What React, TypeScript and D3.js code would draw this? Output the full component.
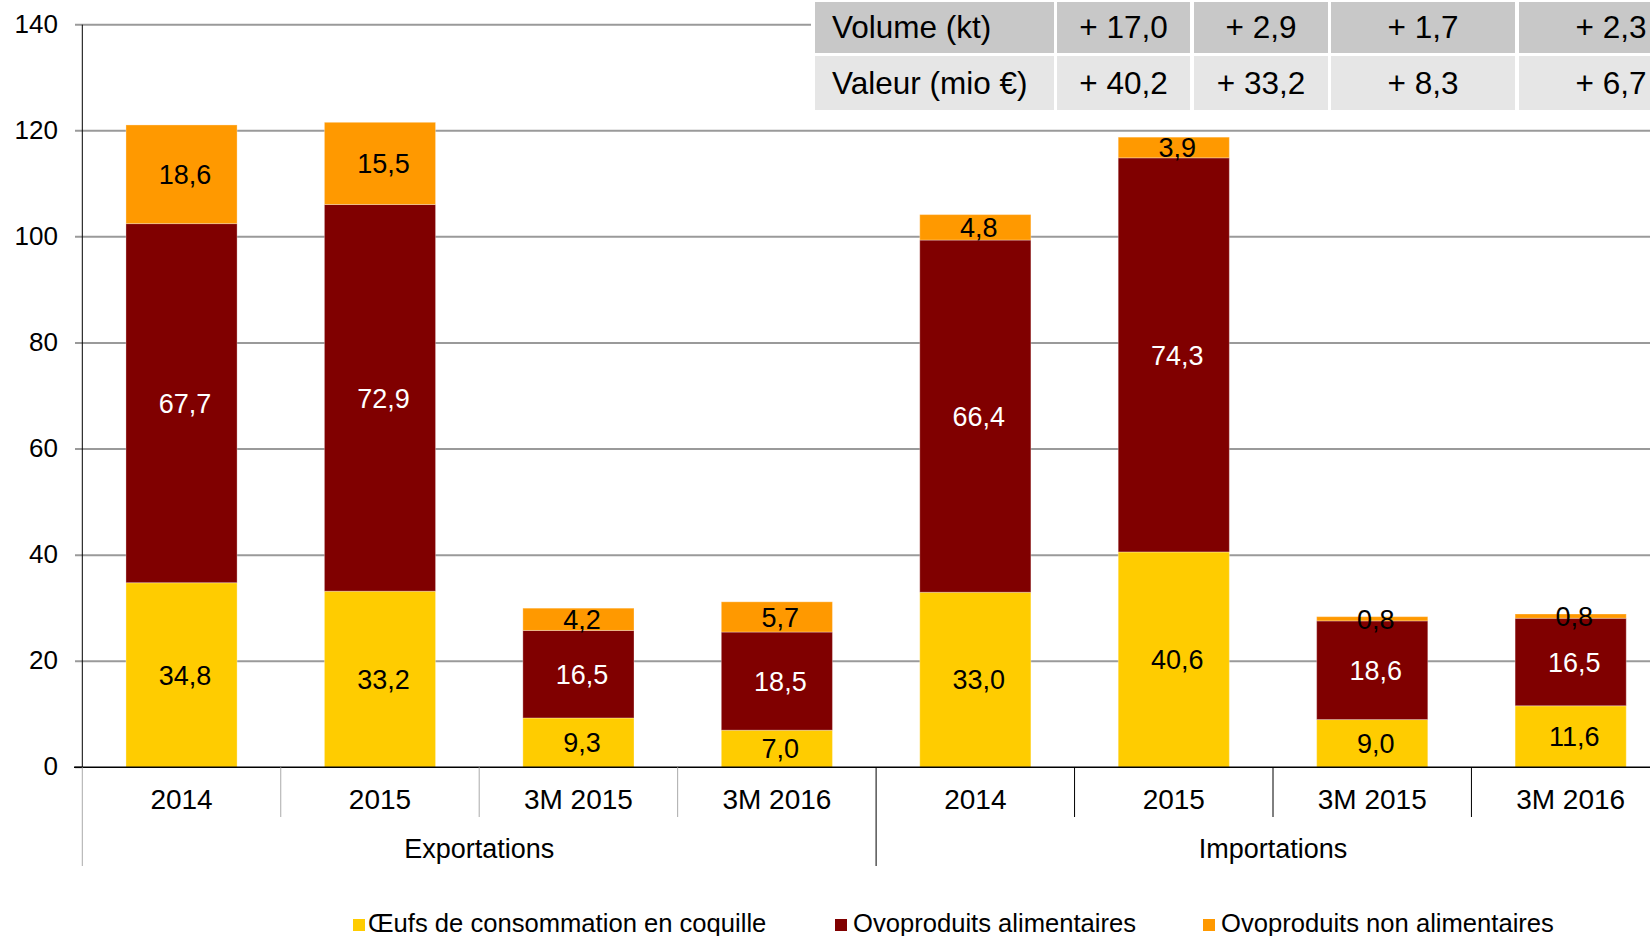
import React from "react";
import * as d3 from "d3";

const categories = ["2014", "2015", "3M 2015", "3M 2016", "2014", "2015", "3M 2015", "3M 2016"];
const groups = ["Exportations", "Importations"];
const seriesNames = ["Œufs de consommation en coquille", "Ovoproduits alimentaires", "Ovoproduits non alimentaires"];
const oeufs = [34.8, 33.2, 9.3, 7.0, 33.0, 40.6, 9.0, 11.6];
const alimentaires = [67.7, 72.9, 16.5, 18.5, 66.4, 74.3, 18.6, 16.5];
const nonAlimentaires = [18.6, 15.5, 4.2, 5.7, 4.8, 3.9, 0.8, 0.8];
const yTicks = [0, 20, 40, 60, 80, 100, 120, 140];
const tableRowLabels = ["Volume (kt)", "Valeur (mio €)"];
const volumeDiffs = ["+ 17,0", "+ 2,9", "+ 1,7", "+ 2,3"];
const valueDiffs = ["+ 40,2", "+ 33,2", "+ 8,3", "+ 6,7"];

const COLORS = ["#FFCC00", "#800000", "#FF9900"];
const LABEL_COLORS = ["#000", "#fff", "#000"];
const FONT = "'Liberation Sans', Arial, Helvetica, sans-serif";

export default function App() {
  const W = 1650, H = 936;
  const x0 = 82.3, step = 198.45;
  const x = d3.scaleBand<number>().domain(d3.range(categories.length)).range([x0, x0 + step * categories.length]).padding(0);
  const y = d3.scaleLinear().domain([0, 140]).range([767.3, 24.7]);
  const barW = x.bandwidth() * 0.56;

  const rows = categories.map((c, i) => ({ i, oeufs: oeufs[i], alim: alimentaires[i], non: nonAlimentaires[i] }));
  const stack = d3.stack<any>().keys(["oeufs", "alim", "non"])(rows);

  const fmt = (v: number) => v.toFixed(1).replace(".", ",");

  // table layout
  const colX = [[815, 1054], [1057, 1190], [1194, 1328], [1331, 1515], [1519, 1703]];
  const rowY = [[2, 53], [56, 110]];
  const rowFill = ["#C8C8C8", "#E6E6E6"];
  const rowVals = [volumeDiffs, valueDiffs];

  const legendX = [[353, 368], [835, 853], [1203, 1221]];

  return (
    <svg width={W} height={H} style={{ position: "absolute", left: 0, top: 0, background: "#fff" }} fontFamily={FONT}>
      {/* gridlines */}
      {yTicks.filter(t => t > 0).map(t => (
        <line key={"g" + t} x1={75} x2={W} y1={y(t)} y2={y(t)} stroke="#9a9a9a" strokeWidth={2} />
      ))}
      <line x1={75} x2={82} y1={y(0)} y2={y(0)} stroke="#9a9a9a" strokeWidth={2} />
      {/* y tick labels */}
      {yTicks.map(t => (
        <text key={"t" + t} x={58} y={y(t)} dy="0.3em" textAnchor="end" fontSize={26} fill="#000">{t}</text>
      ))}
      {/* bars */}
      {stack.map((s, k) => s.map((d, i) => {
        const bx = (x(i) as number) + (x.bandwidth() - barW) / 2;
        return (
          <rect key={k + "-" + i} x={bx} width={barW} y={y(d[1])} height={y(d[0]) - y(d[1])}
            fill={COLORS[k]} stroke="rgba(255,255,255,0.3)" strokeWidth={1} />
        );
      }))}
      {/* data labels */}
      {stack.map((s, k) => s.map((d, i) => (
        <text key={"l" + k + "-" + i} x={(x(i) as number) + x.bandwidth() / 2 + 3.5} y={y((d[0] + d[1]) / 2)} dy="0.36em"
          textAnchor="middle" fontSize={27} fill={LABEL_COLORS[k]}>{fmt(d[1] - d[0])}</text>
      )))}
      {/* axes */}
      <line x1={x0} x2={x0} y1={y(140)} y2={y(0)} stroke="#000" strokeWidth={1} />
      <line x1={74} x2={W} y1={y(0)} y2={y(0)} stroke="#000" strokeWidth={1.5} />
      {/* category separators */}
      {d3.range(categories.length + 1).map(i => {
        const sx = x0 + i * step;
        const isGroup = i % 4 === 0;
        const dark = i >= 4;
        return (
          <line key={"s" + i} x1={sx} x2={sx} y1={y(0)} y2={isGroup ? 866 : 817}
            stroke={dark ? "#000" : "#aaaaaa"} strokeWidth={1} />
        );
      })}
      {/* category labels */}
      {categories.map((c, i) => (
        <text key={"c" + i} x={(x(i) as number) + x.bandwidth() / 2} y={808.5} textAnchor="middle" fontSize={28} fill="#000">{c}</text>
      ))}
      {groups.map((g, gi) => (
        <text key={"gr" + gi} x={x0 + step * (gi * 4 + 2)} y={858} textAnchor="middle" fontSize={27} fill="#000">{g}</text>
      ))}
      {/* table */}
      <rect x={811} y={0} width={W - 811} height={112} fill="#fff" />
      {rowY.map((ry, r) => (
        <g key={"r" + r}>
          {colX.map((cx, c) => (
            <rect key={"cell" + r + c} x={cx[0]} y={ry[0]} width={cx[1] - cx[0]} height={ry[1] - ry[0]} fill={rowFill[r]} />
          ))}
          <text x={832} y={(ry[0] + ry[1]) / 2} dy="0.34em" fontSize={31.5} fill="#000">{tableRowLabels[r]}</text>
          {rowVals[r].map((v, c) => (
            <text key={"v" + r + c} x={(colX[c + 1][0] + colX[c + 1][1]) / 2} y={(ry[0] + ry[1]) / 2} dy="0.34em"
              textAnchor="middle" fontSize={31.5} fill="#000">{v}</text>
          ))}
        </g>
      ))}
      {/* legend */}
      {seriesNames.map((n, k) => (
        <g key={"lg" + k}>
          <rect x={legendX[k][0]} y={919} width={12} height={12} fill={COLORS[k]} />
          <text x={legendX[k][1]} y={932} fontSize={25.6} fill="#000">{n}</text>
        </g>
      ))}
    </svg>
  );
}
